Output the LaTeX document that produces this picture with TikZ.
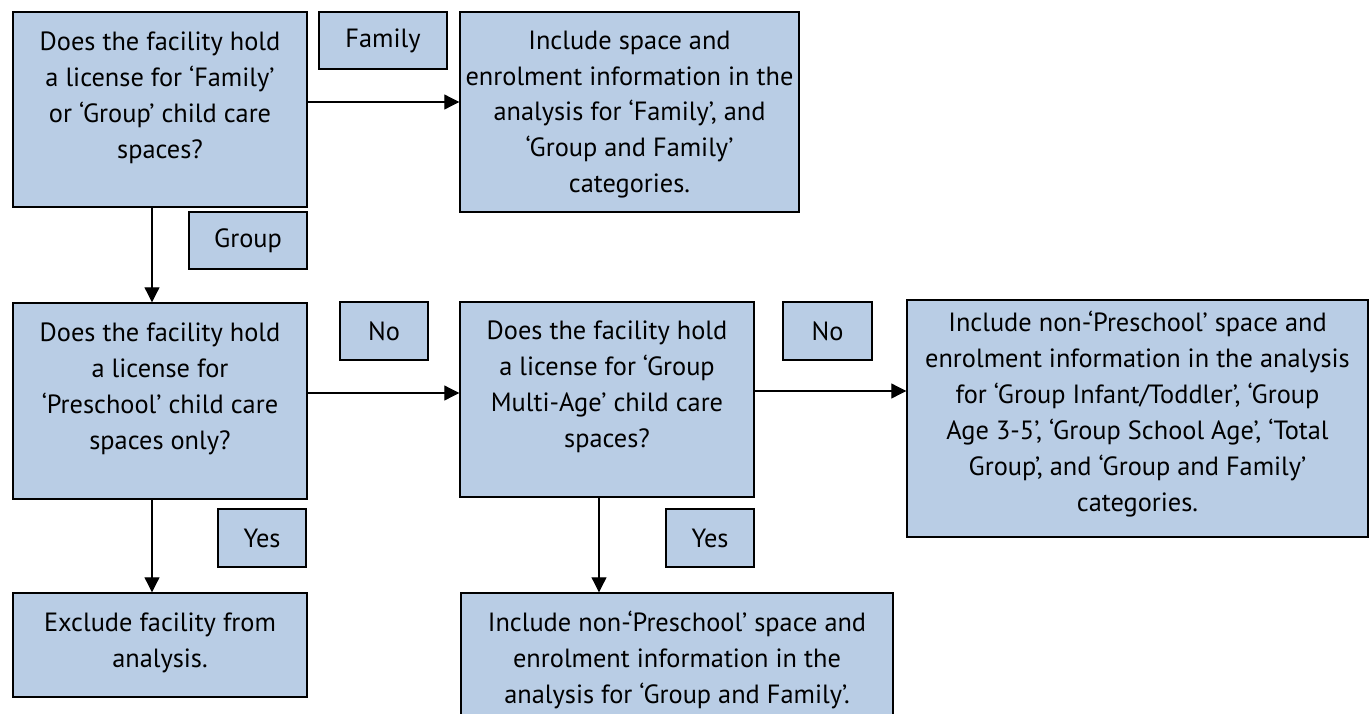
\documentclass[tikz,border=0pt]{standalone}
\usepackage{fontspec}
\setmainfont{PT Sans}
\usepackage{tikz}
\usetikzlibrary{arrows.meta,positioning}

\definecolor{boxblue}{RGB}{185,205,229}

\begin{document}
\begin{tikzpicture}[-{Triangle[length=0.3cm,width=0.3cm]},line width=0.6pt,
  box node/.style={rectangle,fill=boxblue,draw=black,line width=0.8pt,inner sep=0pt},
  tag node/.style={rectangle,fill=boxblue,draw=black,line width=0.8pt,inner sep=0pt,
    font=\fontsize{15}{20.4}\selectfont},
  txt node/.style={inner sep=0pt,align=center,font=\fontsize{15}{20.4}\selectfont}]

  \useasboundingbox (0,0) rectangle (27.4,-14.26);

  % boxes
  \node[box node,minimum width=5.88cm,minimum height=3.90cm] (q1) at (3.20,-2.19) {};
  \node[box node,minimum width=6.78cm,minimum height=4.00cm] (incfam) at (12.59,-2.24) {};
  \node[box node,minimum width=5.88cm,minimum height=3.92cm] (q2) at (3.20,-8.02) {};
  \node[box node,minimum width=5.88cm,minimum height=3.90cm] (q3) at (12.14,-7.99) {};
  \node[box node,minimum width=9.22cm,minimum height=4.74cm] (incgrp) at (22.75,-8.37) {};
  \node[box node,minimum width=5.88cm,minimum height=2.08cm] (excl) at (3.20,-12.90) {};
  \node[box node,minimum width=8.64cm,minimum height=2.54cm] (incgf) at (13.54,-13.13) {};

  % texts
  \node[txt node,below=0.40cm of q1.north] (q1txt)
    {Does the facility hold\\a license for ‘Family’\\or ‘Group’ child care\\spaces?};
  \node[txt node,below=0.38cm of incfam.north] (incfamtxt)
    {Include space and\\enrolment information in the\\analysis for ‘Family’, and\\‘Group and Family’\\categories.};
  \node[txt node,below=0.40cm of q2.north] (q2txt)
    {Does the facility hold\\a license for\\‘Preschool’ child care\\spaces only?};
  \node[txt node,below=0.38cm of q3.north] (q3txt)
    {Does the facility hold\\a license for ‘Group\\Multi-Age’ child care\\spaces?};
  \node[txt node,below=0.23cm of incgrp.north] (incgrptxt)
    {Include non-‘Preschool’ space and\\enrolment information in the analysis\\for ‘Group Infant/Toddler’, ‘Group\\Age 3-5’, ‘Group School Age’, ‘Total\\Group’, and ‘Group and Family’\\categories.};
  \node[txt node,below=0.40cm of excl.north] (excltxt)
    {Exclude facility from\\analysis.};
  \node[txt node,below=0.37cm of incgf.north] (incgftxt)
    {Include non-‘Preschool’ space and\\enrolment information in the\\analysis for ‘Group and Family’.};

  % answer tags
  \node[tag node,minimum width=2.56cm,minimum height=1.14cm] (famtag) at (7.66,-0.81) {Family};
  \node[tag node,minimum width=2.36cm,minimum height=1.14cm] (grptag) at (4.96,-4.81) {Group};
  \node[tag node,minimum width=1.76cm,minimum height=1.16cm] (notaga) at (7.68,-6.62) {No};
  \node[tag node,minimum width=1.78cm,minimum height=1.16cm] (notagb) at (16.55,-6.62) {No};
  \node[tag node,minimum width=1.76cm,minimum height=1.16cm] (yestaga) at (5.24,-10.76) {Yes};
  \node[tag node,minimum width=1.76cm,minimum height=1.16cm] (yestagb) at (14.20,-10.76) {Yes};

  \path
    ([yshift=0.15cm]q1.east) edge ([yshift=0.15cm]q1.east -| incfam.west)
    ([xshift=-0.16cm]q1.south) edge ([xshift=-0.16cm]q1.south |- q2.north)
    ([yshift=0.16cm]q2.east) edge ([yshift=0.16cm]q2.east -| q3.west)
    ([yshift=0.17cm]q3.east) edge ([yshift=0.17cm]q3.east -| incgrp.west)
    ([xshift=-0.16cm]q2.south) edge ([xshift=-0.16cm]q2.south |- excl.north)
    ([xshift=-0.16cm]q3.south) edge ([xshift=-0.16cm]q3.south |- incgf.north)
    ;

\end{tikzpicture}
\end{document}
